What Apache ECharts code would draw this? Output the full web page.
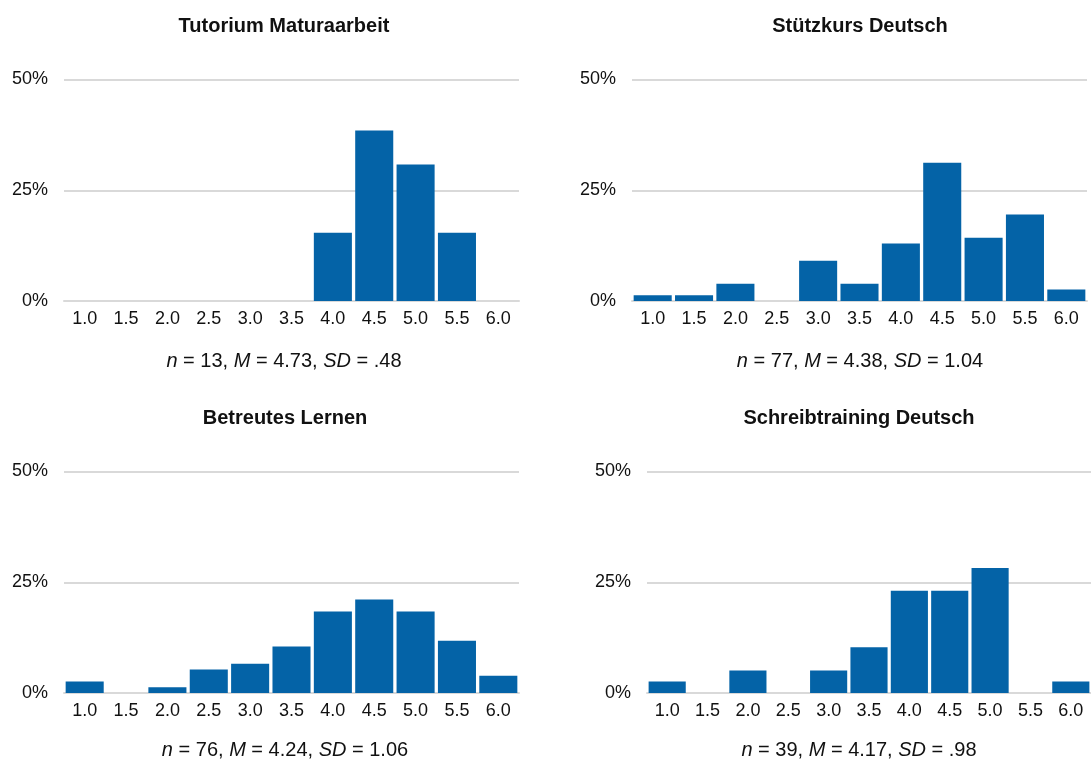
<!DOCTYPE html>
<html>
<head>
<meta charset="utf-8">
<script src="https://cdn.jsdelivr.net/npm/echarts@6/dist/echarts.min.js"></script>
<style>
    html, body { margin: 0; padding: 0; background: #fff; }
    #chart { width: 1091px; height: 760px; }
</style>
</head>
<body>
<div id="chart"></div>
<script>
// Notenkategorien (x-Achse)
const grades = ['1.0', '1.5', '2.0', '2.5', '3.0', '3.5', '4.0', '4.5', '5.0', '5.5', '6.0']
const yTicks = [0, 25, 50]

// Anteile in Prozent
const tutorium = [0, 0, 0, 0, 0, 0, 15.4, 38.5, 30.8, 15.4, 0]
const stuetzkurs = [1.3, 1.3, 3.9, 0, 9.1, 3.9, 13.0, 31.2, 14.3, 19.5, 2.6]
const betreut = [2.6, 0, 1.3, 5.3, 6.6, 10.5, 18.4, 21.1, 18.4, 11.8, 3.9]
const schreib = [2.6, 0, 5.1, 0, 5.1, 10.3, 23.1, 23.1, 28.2, 0, 2.6]

const titles = ['Tutorium Maturaarbeit', 'Stützkurs Deutsch', 'Betreutes Lernen', 'Schreibtraining Deutsch']
const stats = [
    ['13', '4.73', '.48'],
    ['77', '4.38', '1.04'],
    ['76', '4.24', '1.06'],
    ['39', '4.17', '.98'],
]

const font = '"Liberation Sans", Arial, Helvetica, sans-serif'
const barColor = '#0463a7'
const gridColor = '#d9d9d9'

// Lage der vier Diagramme
const panels = [
    { left: 64, top: 79.5, cx: 279, titleTop: 11, subTop: 346, data: tutorium },
    { left: 632, top: 79.5, cx: 855, titleTop: 11, subTop: 346, data: stuetzkurs },
    { left: 64, top: 471.5, cx: 280, titleTop: 403, subTop: 735, data: betreut },
    { left: 647, top: 471.5, cx: 854, titleTop: 403, subTop: 735, data: schreib },
]

const chart = echarts.init(document.getElementById('chart'))

const option = {
    animation: false,
    title: [],
    grid: [],
    xAxis: [],
    yAxis: [],
    series: []
}

panels.forEach((p, i) => {
    option.title.push({
        text: titles[i],
        left: p.cx,
        top: p.titleTop,
        textAlign: 'center',
        textStyle: { fontFamily: font, fontSize: 20, fontWeight: 'bold', color: '#111' }
    })
    option.title.push({
        text: '{i|n} = ' + stats[i][0] + ', {i|M} = ' + stats[i][1] + ', {i|SD} = ' + stats[i][2],
        left: p.cx,
        top: p.subTop,
        textAlign: 'center',
        textStyle: {
            fontFamily: font, fontSize: 20, fontWeight: 'normal', color: '#111',
            rich: { i: { fontFamily: font, fontSize: 20, fontStyle: 'italic', color: '#111' } }
        }
    })
    option.grid.push({ left: p.left, top: p.top, width: 455, height: 221.5 })
    option.xAxis.push({
        type: 'category',
        gridIndex: i,
        data: grades,
        axisTick: { show: false },
        axisLine: { lineStyle: { color: gridColor, width: 2 } },
        axisLabel: { fontFamily: font, fontSize: 18, color: '#111', margin: 9, interval: 0 }
    })
    option.yAxis.push({
        type: 'value',
        gridIndex: i,
        min: yTicks[0],
        max: yTicks[yTicks.length - 1],
        interval: 25,
        axisLine: { show: false },
        axisTick: { show: false },
        splitLine: { lineStyle: { color: gridColor, width: 2 } },
        axisLabel: { fontFamily: font, fontSize: 18, color: '#111', margin: 16, formatter: '{value}%' }
    })
    option.series.push({
        type: 'bar',
        xAxisIndex: i,
        yAxisIndex: i,
        data: p.data,
        barCategoryGap: '8%',
        itemStyle: { color: barColor }
    })
})

chart.setOption(option)
</script>
</body>
</html>
